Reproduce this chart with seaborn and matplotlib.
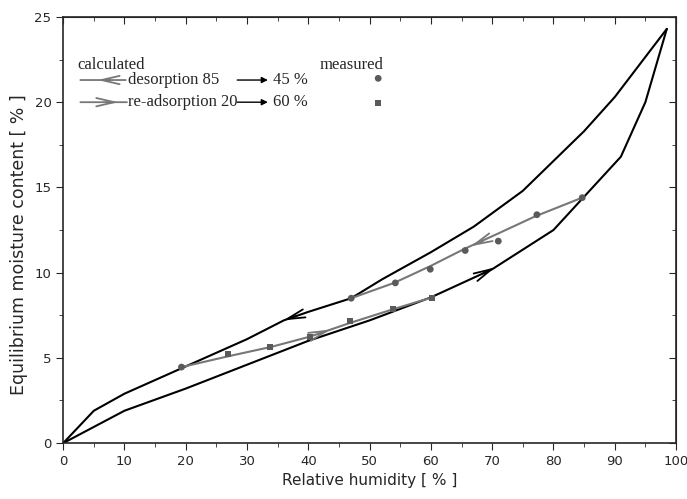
import numpy as np
import pandas as pd
import seaborn as sns
import matplotlib.pyplot as plt
from matplotlib.ticker import MultipleLocator

# boundary curves (black)
upper_rh = [0, 5, 10, 20, 30, 36, 40, 47, 52, 60, 67, 75, 85, 90, 98.5]
upper_mc = [0, 1.9, 2.9, 4.5, 6.1, 7.2, 7.7, 8.5, 9.6, 11.2, 12.7, 14.8, 18.3, 20.3, 24.3]
lower_rh = [0, 10, 20, 30, 40, 50, 60, 70, 80, 91, 95, 98.5]
lower_mc = [0, 1.9, 3.2, 4.6, 6.0, 7.2, 8.55, 10.2, 12.5, 16.8, 20.0, 24.3]

# calculated scanning curves (grey)
des_rh = [84.7, 77, 71, 65.5, 60, 54, 47]
des_mc = [14.4, 13.3, 12.3, 11.4, 10.4, 9.4, 8.5]
ads_rh = [19.3, 27, 34, 40.3, 46.8, 53.8, 60.2]
ads_mc = [4.46, 5.1, 5.65, 6.25, 7.05, 7.85, 8.55]

# measured points
mdes_rh = [84.7, 77.3, 71, 65.6, 59.9, 54.2, 47, 19.3]
mdes_mc = [14.4, 13.4, 11.85, 11.3, 10.2, 9.4, 8.5, 4.46]
mads_rh = [26.9, 33.8, 40.3, 46.8, 53.8, 60.2]
mads_mc = [5.22, 5.63, 6.22, 7.16, 7.86, 8.5]

sns.set_style("ticks")
plt.rcParams['font.family'] = ['DejaVu Sans']

fig = plt.figure(figsize=(6.87, 4.99), dpi=100)
ax = fig.add_axes([0.092, 0.112, 0.892, 0.854])

grey = "#777777"
sns.lineplot(x=upper_rh, y=upper_mc, sort=False, color="black", lw=1.5, ax=ax)
sns.lineplot(x=lower_rh, y=lower_mc, sort=False, color="black", lw=1.5, ax=ax)
sns.lineplot(x=des_rh, y=des_mc, sort=False, color=grey, lw=1.5, ax=ax)
sns.lineplot(x=ads_rh, y=ads_mc, sort=False, color=grey, lw=1.5, ax=ax)
sns.scatterplot(x=mdes_rh, y=mdes_mc, marker="o", s=24, color="#5a5a5a", edgecolor="none", ax=ax, zorder=5)
sns.scatterplot(x=mads_rh, y=mads_mc, marker="s", s=18, color="#5a5a5a", edgecolor="none", ax=ax, zorder=5)

HEAD = "->,head_length=1.3,head_width=0.3"


# open arrow heads along the curves
def head(tip, tail, color):
    ax.annotate("", xy=tip, xytext=tail,
                arrowprops=dict(arrowstyle=HEAD, color=color, lw=1.3,
                                mutation_scale=10, shrinkA=0, shrinkB=0))


head((66.5, 11.55), (68.5, 11.87), grey)
head((35.9, 7.2), (37.9, 7.44), "black")
head((43.6, 6.66), (41.6, 6.41), grey)
head((70.5, 10.31), (68.5, 9.95), "black")

ax.set_xlim(0, 100)
ax.set_ylim(0, 25)
ax.xaxis.set_major_locator(MultipleLocator(10))
ax.xaxis.set_minor_locator(MultipleLocator(5))
ax.yaxis.set_major_locator(MultipleLocator(5))
ax.yaxis.set_minor_locator(MultipleLocator(2.5))
ax.tick_params(which="both", direction="out", top=False, right=False, labelsize=9.5)
ax.tick_params(which="major", length=5)
ax.tick_params(which="minor", length=3)

top = ax.secondary_xaxis("top")
top.xaxis.set_major_locator(MultipleLocator(10))
top.xaxis.set_minor_locator(MultipleLocator(5))
top.tick_params(which="both", direction="in", labeltop=False)
top.tick_params(which="major", length=5)
top.tick_params(which="minor", length=3)
right = ax.secondary_yaxis("right")
right.yaxis.set_major_locator(MultipleLocator(5))
right.yaxis.set_minor_locator(MultipleLocator(2.5))
right.tick_params(which="both", direction="in", labelright=False)
right.tick_params(which="major", length=5)
right.tick_params(which="minor", length=3)
for s in ax.spines.values():
    s.set_linewidth(1.2)

ax.set_xlabel("Relative humidity [ % ]", fontsize=11)
ax.set_ylabel("Equilibrium moisture content [ % ]", fontsize=12.5)
ax.yaxis.set_label_coords(-0.058, 0.465)

# legend drawn by hand
serif = dict(family=["Liberation Serif", "DejaVu Serif"], fontsize=12, va="center")
ax.text(2.3, 22.2, "calculated", **serif)
ax.text(41.8, 22.2, "measured", **serif)
ax.text(10.6, 21.3, "desorption 85", **serif)
ax.text(34.2, 21.3, "45 %", **serif)
ax.text(10.6, 20.0, "re-adsorption 20", **serif)
ax.text(34.2, 20.0, "60 %", **serif)

# grey legend arrows: shaft plus open head
ax.annotate("", xy=(2.8, 21.3), xytext=(10.2, 21.3),
            arrowprops=dict(arrowstyle="-", color=grey, lw=1.3, shrinkA=0, shrinkB=0))
ax.annotate("", xy=(5.6, 21.3), xytext=(7.6, 21.3),
            arrowprops=dict(arrowstyle=HEAD, color=grey, lw=1.3, mutation_scale=10, shrinkA=0, shrinkB=0))
ax.annotate("", xy=(2.8, 20.0), xytext=(10.4, 20.0),
            arrowprops=dict(arrowstyle="-", color=grey, lw=1.3, shrinkA=0, shrinkB=0))
ax.annotate("", xy=(9.0, 20.0), xytext=(7.0, 20.0),
            arrowprops=dict(arrowstyle=HEAD, color=grey, lw=1.3, mutation_scale=10, shrinkA=0, shrinkB=0))

# small black arrows between the numbers
ax.annotate("", xy=(33.4, 21.3), xytext=(28.4, 21.3),
            arrowprops=dict(arrowstyle="-|>", color="black", lw=1.0, mutation_scale=9, shrinkA=0, shrinkB=0))
ax.annotate("", xy=(33.4, 20.0), xytext=(28.4, 20.0),
            arrowprops=dict(arrowstyle="-|>", color="black", lw=1.0, mutation_scale=9, shrinkA=0, shrinkB=0))
sns.scatterplot(x=[51.4], y=[21.4], marker="o", s=24, color="#5a5a5a", edgecolor="none", ax=ax)
sns.scatterplot(x=[51.4], y=[19.95], marker="s", s=18, color="#5a5a5a", edgecolor="none", ax=ax)

fig.savefig("out.png", dpi=100)
